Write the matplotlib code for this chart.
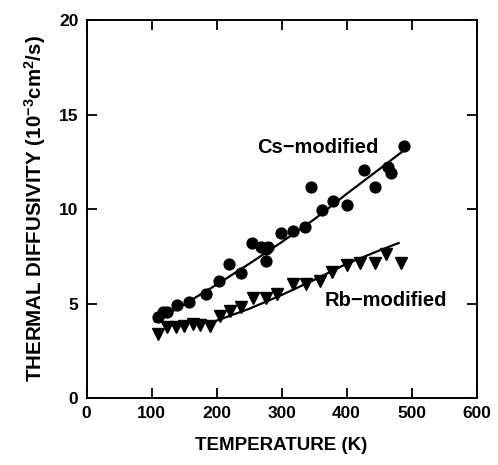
import matplotlib
matplotlib.use('Agg')
import matplotlib.pyplot as plt

plt.rcParams['font.family'] = ['Liberation Sans', 'DejaVu Sans']
plt.rcParams['mathtext.fontset'] = 'custom'
plt.rcParams['mathtext.rm'] = 'Liberation Sans'
plt.rcParams['mathtext.bf'] = 'Liberation Sans:bold'
plt.rcParams['mathtext.default'] = 'bf'

# Cs-modified data (circles)
cs_temp = [110, 118, 123, 139, 157, 183, 204, 219, 238, 255, 268, 276, 279, 276,
           299, 318, 336, 345, 362, 379, 401, 426, 444, 464, 469, 489]
cs_diff = [4.30, 4.57, 4.57, 4.92, 5.06, 5.50, 6.19, 7.07, 6.63, 8.18, 8.00, 7.27, 7.97, 7.90,
           8.71, 8.84, 9.06, 11.15, 9.95, 10.44, 10.19, 12.06, 11.18, 12.24, 11.92, 13.33]

# Rb-modified data (triangles)
rb_temp = [110, 123, 138, 150, 164, 174, 190, 205, 220, 238, 256, 276, 293,
           317, 337, 359, 377, 400, 420, 443, 461, 483]
rb_diff = [3.40, 3.77, 3.75, 3.80, 3.90, 3.86, 3.80, 4.35, 4.60, 4.83, 5.27, 5.27, 5.50,
           6.03, 6.03, 6.21, 6.68, 7.04, 7.13, 7.13, 7.62, 7.16]

# fitted curves
cs_fit_temp = [105, 150, 200, 250, 300, 350, 400, 450, 488]
cs_fit_diff = [4.05, 4.95, 6.00, 7.10, 8.25, 9.45, 10.80, 12.10, 13.10]
rb_fit_temp = [190, 250, 300, 350, 400, 450, 480]
rb_fit_diff = [3.97, 4.72, 5.45, 6.25, 7.10, 7.80, 8.20]

fig = plt.figure(figsize=(4.98, 4.65), dpi=100)
ax = fig.add_axes([0.174, 0.144, 0.783, 0.813])

ax.plot(cs_fit_temp, cs_fit_diff, color='black', lw=1.6)
ax.plot(rb_fit_temp, rb_fit_diff, color='black', lw=1.6)
ax.plot(cs_temp, cs_diff, 'o', color='black', ms=7.8, ls='none')
ax.plot(rb_temp, rb_diff, 'v', color='black', ms=8, ls='none')

ax.text(355, 13.28, 'Cs\u2212modified', fontsize=14.5, fontweight='bold',
        ha='center', va='center')
ax.text(460, 5.15, 'Rb\u2212modified', fontsize=14.5, fontweight='bold',
        ha='center', va='center')

ax.set_xlim(0, 600)
ax.set_ylim(0, 20)
ax.set_xticks([0, 100, 200, 300, 400, 500, 600])
ax.set_yticks([0, 5, 10, 15, 20])
ax.tick_params(direction='in', length=7, width=1.3, labelsize=12.5, pad=6,
               top=True, right=True)
for lab in ax.get_xticklabels() + ax.get_yticklabels():
    lab.set_fontweight('bold')
for s in ax.spines.values():
    s.set_linewidth(1.4)

ax.set_xlabel('TEMPERATURE (K)', fontsize=13.5, fontweight='bold', labelpad=11)
ax.set_ylabel('THERMAL DIFFUSIVITY (10$^{-3}$cm$^{2}$/s)', fontsize=14.8,
              fontweight='bold', labelpad=8)

fig.savefig('out.png', dpi=100)
